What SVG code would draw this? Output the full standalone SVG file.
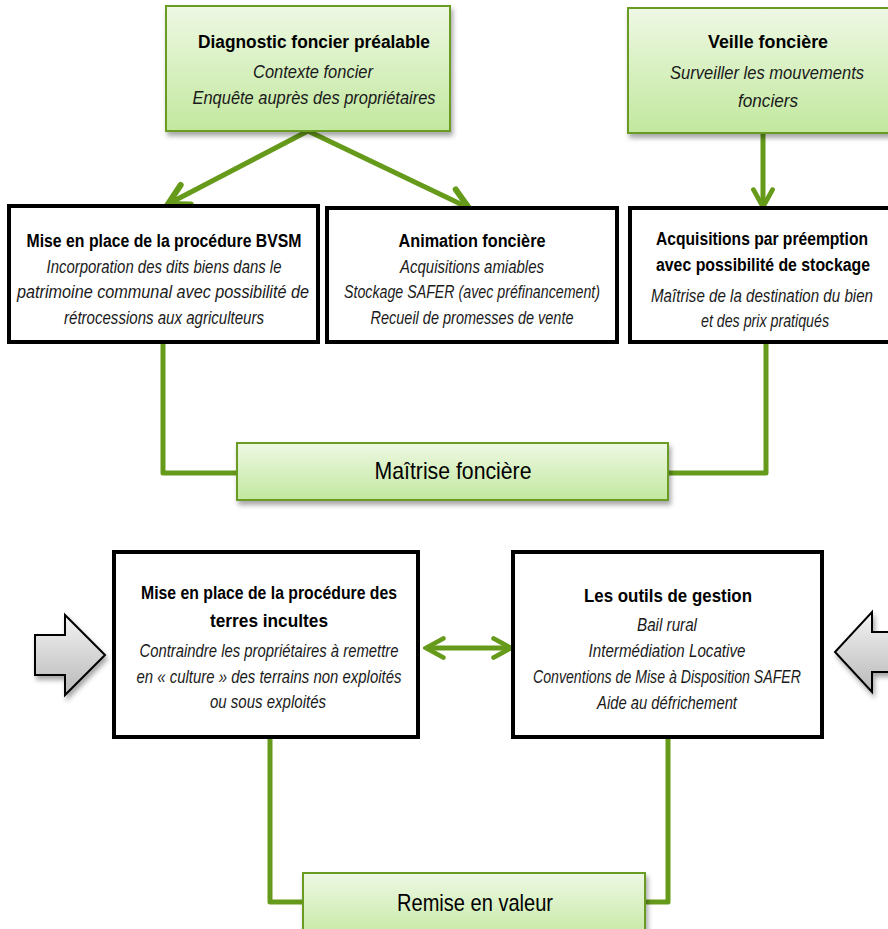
<svg xmlns="http://www.w3.org/2000/svg" width="888" height="929" viewBox="0 0 888 929">
<defs>
  <linearGradient id="gGreen" x1="0" y1="0" x2="0" y2="1">
    <stop offset="0" stop-color="#eef8e4"/>
    <stop offset="1" stop-color="#c2e89e"/>
  </linearGradient>
  <linearGradient id="gGrey" x1="0" y1="0" x2="0" y2="1">
    <stop offset="0" stop-color="#f4f4f4"/>
    <stop offset="1" stop-color="#b8b8b8"/>
  </linearGradient>
  <filter id="shadow" x="-10%" y="-10%" width="130%" height="140%">
    <feDropShadow dx="2" dy="4" stdDeviation="2.5" flood-color="#000" flood-opacity="0.35"/>
  </filter>
  <marker id="arrow" viewBox="0 0 30 30" refX="26" refY="15" markerWidth="30" markerHeight="30" markerUnits="userSpaceOnUse" orient="auto-start-reverse">
    <path d="M6,4 L26,15 L6,26" fill="none" stroke="#669a1a" stroke-width="6" stroke-linecap="round" stroke-linejoin="miter"/>
  </marker>
  <marker id="arrowSm" viewBox="0 0 30 30" refX="26" refY="15" markerWidth="26" markerHeight="26" markerUnits="userSpaceOnUse" orient="auto-start-reverse">
    <path d="M6,4 L26,15 L6,26" fill="none" stroke="#669a1a" stroke-width="5.5" stroke-linecap="round" stroke-linejoin="miter"/>
  </marker>
</defs>
<style>
  .green { fill: url(#gGreen); stroke: #6b9b22; stroke-width: 2; filter: url(#shadow); }
  .black { fill: #fff; stroke: #000; stroke-width: 4; }
  .grey { fill: url(#gGrey); stroke: #000; stroke-width: 2; stroke-linejoin: miter; filter: url(#shadow); }
  .conn { fill: none; stroke: #669a1a; stroke-width: 5; stroke-linejoin: round; stroke-linecap: butt; }
  text { font-family: 'Liberation Sans', Arial, sans-serif; text-anchor: middle; fill: #000; }
  .t { font-weight: bold; font-size: 18px; }
  .i { font-style: italic; font-size: 17.5px; fill: #1a1a1a; }
  .big { font-size: 24px; }
</style>

<rect width="888" height="929" fill="#fff"/>

<g id="connectors">
  <path class="conn" d="M163,343 L163,473 L238,473"/>
  <path class="conn" d="M766,343 L766,473 L667,473"/>
  <path class="conn" d="M270,738 L270,902 L304,902"/>
  <path class="conn" d="M668,738 L668,902 L644,902"/>
  <line class="conn" x1="308" y1="131" x2="168" y2="204" stroke-width="7" marker-end="url(#arrow)"/>
  <line class="conn" x1="308" y1="131" x2="469" y2="208" stroke-width="7" marker-end="url(#arrow)"/>
  <line class="conn" x1="763" y1="133" x2="763" y2="207" marker-end="url(#arrowSm)"/>
  <line class="conn" x1="426" y1="648" x2="511" y2="648" marker-start="url(#arrowSm)" marker-end="url(#arrowSm)"/>
</g>

<g id="diagnostic">
  <rect class="green" x="166" y="6" width="284" height="125"/>
  <text class="t" x="314" y="48" textLength="232" lengthAdjust="spacingAndGlyphs">Diagnostic foncier préalable</text>
  <text class="i" x="313" y="78" textLength="120" lengthAdjust="spacingAndGlyphs">Contexte foncier</text>
  <text class="i" x="314" y="104" textLength="243" lengthAdjust="spacingAndGlyphs">Enquête auprès des propriétaires</text>
</g>

<g id="veille">
  <rect class="green" x="628" y="8" width="278" height="125"/>
  <text class="t" x="768" y="48" textLength="120" lengthAdjust="spacingAndGlyphs">Veille foncière</text>
  <text class="i" x="767" y="79" textLength="194" lengthAdjust="spacingAndGlyphs">Surveiller les mouvements</text>
  <text class="i" x="768" y="107" textLength="60" lengthAdjust="spacingAndGlyphs">fonciers</text>
</g>

<g id="bvsm">
  <rect class="black" x="9" y="206" width="309" height="136"/>
  <text class="t" x="164" y="247" textLength="275" lengthAdjust="spacingAndGlyphs">Mise en place de la procédure BVSM</text>
  <text class="i" x="164" y="273" textLength="235" lengthAdjust="spacingAndGlyphs">Incorporation des dits biens dans le</text>
  <text class="i" x="163" y="298" textLength="292" lengthAdjust="spacingAndGlyphs">patrimoine communal avec possibilité de</text>
  <text class="i" x="164" y="324" textLength="200" lengthAdjust="spacingAndGlyphs">rétrocessions aux agriculteurs</text>
</g>

<g id="animation">
  <rect class="black" x="327" y="208" width="290" height="134"/>
  <text class="t" x="472" y="247" textLength="147" lengthAdjust="spacingAndGlyphs">Animation foncière</text>
  <text class="i" x="472" y="273" textLength="144" lengthAdjust="spacingAndGlyphs">Acquisitions amiables</text>
  <text class="i" x="472" y="298" textLength="256" lengthAdjust="spacingAndGlyphs">Stockage SAFER (avec préfinancement)</text>
  <text class="i" x="472" y="324" textLength="203" lengthAdjust="spacingAndGlyphs">Recueil de promesses de vente</text>
</g>

<g id="acquisitions">
  <rect class="black" x="630" y="208" width="261" height="134"/>
  <text class="t" x="762" y="245" textLength="212" lengthAdjust="spacingAndGlyphs">Acquisitions par préemption</text>
  <text class="t" x="763" y="271" textLength="214" lengthAdjust="spacingAndGlyphs">avec possibilité de stockage</text>
  <text class="i" x="762" y="302" textLength="222" lengthAdjust="spacingAndGlyphs">Maîtrise de la destination du bien</text>
  <text class="i" x="765" y="327" textLength="128" lengthAdjust="spacingAndGlyphs">et des prix pratiqués</text>
</g>

<g id="maitrise">
  <rect class="green" x="237" y="443" width="431" height="57"/>
  <text class="big" x="453" y="479" textLength="157" lengthAdjust="spacingAndGlyphs">Maîtrise foncière</text>
</g>

<g id="arrowLeft">
  <path class="grey" d="M35,635 L65,635 L65,615 L105,655 L65,695 L65,675 L35,675 Z"/>
</g>

<g id="terres">
  <rect class="black" x="114" y="552" width="304" height="185"/>
  <text class="t" x="269" y="599" textLength="256" lengthAdjust="spacingAndGlyphs">Mise en place de la procédure des</text>
  <text class="t" x="269" y="627" textLength="118" lengthAdjust="spacingAndGlyphs">terres incultes</text>
  <text class="i" x="269" y="657" textLength="259" lengthAdjust="spacingAndGlyphs">Contraindre les propriétaires à remettre</text>
  <text class="i" x="269" y="683" textLength="265" lengthAdjust="spacingAndGlyphs">en « culture » des terrains non exploités</text>
  <text class="i" x="268" y="708" textLength="116" lengthAdjust="spacingAndGlyphs">ou sous exploités</text>
</g>

<g id="gestion">
  <rect class="black" x="513" y="552" width="309" height="185"/>
  <text class="t" x="668" y="602" textLength="168" lengthAdjust="spacingAndGlyphs">Les outils de gestion</text>
  <text class="i" x="667" y="631" textLength="60" lengthAdjust="spacingAndGlyphs">Bail rural</text>
  <text class="i" x="667" y="657" textLength="157" lengthAdjust="spacingAndGlyphs">Intermédiation Locative</text>
  <text class="i" x="667" y="683" textLength="268" lengthAdjust="spacingAndGlyphs">Conventions de Mise à Disposition SAFER</text>
  <text class="i" x="667" y="709" textLength="140" lengthAdjust="spacingAndGlyphs">Aide au défrichement</text>
</g>

<g id="arrowRight">
  <path class="grey" d="M900,632 L872,632 L872,612 L835,652 L872,692 L872,672 L900,672 Z"/>
</g>

<g id="remise">
  <rect class="green" x="303" y="873" width="342" height="70"/>
  <text class="big" x="475" y="911" textLength="156" lengthAdjust="spacingAndGlyphs">Remise en valeur</text>
</g>
</svg>
